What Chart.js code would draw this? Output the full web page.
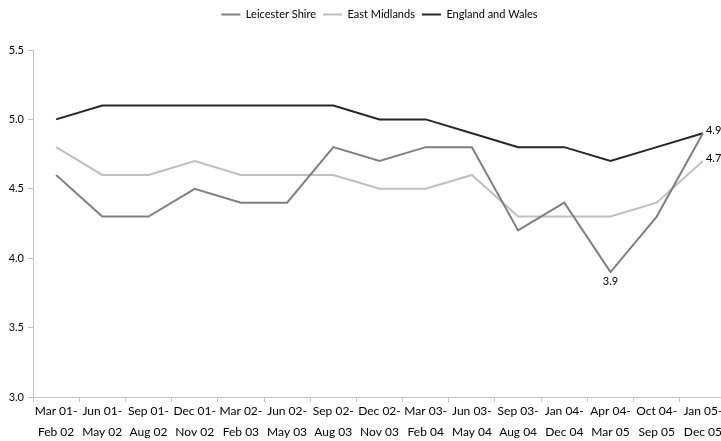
<!DOCTYPE html>
<html>
<head>
<meta charset="utf-8">
<script src="https://cdn.jsdelivr.net/npm/chart.js@4/dist/chart.umd.min.js"></script>
<style>
  html, body { margin: 0; padding: 0; background: #fff; overflow: hidden; }
  /* plot runs a few pixels past the right edge, as in the original */
  #wrap { width: 726px; height: 441px; }
</style>
</head>
<body>
<div id="wrap"><canvas id="rateChart"></canvas></div>
<script>
const periods = [
    ['Mar 01-', 'Feb 02'], ['Jun 01-', 'May 02'], ['Sep 01-', 'Aug 02'], ['Dec 01-', 'Nov 02'],
    ['Mar 02-', 'Feb 03'], ['Jun 02-', 'May 03'], ['Sep 02-', 'Aug 03'], ['Dec 02-', 'Nov 03'],
    ['Mar 03-', 'Feb 04'], ['Jun 03-', 'May 04'], ['Sep 03-', 'Aug 04'], ['Jan 04-', 'Dec 04'],
    ['Apr 04-', 'Mar 05'], ['Oct 04-', 'Sep 05'], ['Jan 05-', 'Dec 05']
];

const leicesterShire = [4.6, 4.3, 4.3, 4.5, 4.4, 4.4, 4.8, 4.7, 4.8, 4.8, 4.2, 4.4, 3.9, 4.3, 4.9];
const eastMidlands   = [4.8, 4.6, 4.6, 4.7, 4.6, 4.6, 4.6, 4.5, 4.5, 4.6, 4.3, 4.3, 4.3, 4.4, 4.7];
const englandWales   = [5.0, 5.1, 5.1, 5.1, 5.1, 5.1, 5.1, 5.0, 5.0, 4.9, 4.8, 4.8, 4.7, 4.8, 4.9];

const yTicks = [3.0, 3.5, 4.0, 4.5, 5.0, 5.5];

// which points get a value written next to them: [dataset, index, position]
const pointLabels = [
    [0, 12, 'below'],
    [0, 14, 'right'],
    [1, 14, 'right']
];

const fontName = 'Lato, "DejaVu Sans", sans-serif';
const axisGrey = '#c4c4c4';

// small inline labeller, no datalabels plugin available offline
const valueLabels = {
    id: 'valueLabels',
    afterDatasetsDraw(chart) {
        const ctx = chart.ctx;
        ctx.save();
        ctx.font = '11px ' + fontName;
        ctx.fillStyle = '#000';
        pointLabels.forEach(([ds, i, pos]) => {
            const pt = chart.getDatasetMeta(ds).data[i];
            const txt = chart.data.datasets[ds].data[i].toFixed(1);
            if (pos === 'below') {
                ctx.textAlign = 'center';
                ctx.textBaseline = 'top';
                ctx.fillText(txt, pt.x, pt.y + 4);
            } else {
                ctx.textAlign = 'left';
                ctx.textBaseline = 'middle';
                ctx.fillText(txt, pt.x + 3, pt.y - 3);
            }
        });
        ctx.restore();
    }
};

// more room under the legend, and centre it over the plot area
const legendGap = {
    id: 'legendGap',
    beforeInit(chart) {
        const fit = chart.legend.fit;
        chart.legend.fit = function () {
            fit.bind(chart.legend)();
            this.height += 20;
        };
    },
    afterLayout(chart) {
        const lg = chart.legend;
        const area = chart.chartArea;
        const shift = (area.left + area.right) / 2 - (lg.left + lg.right) / 2;
        lg.left += shift;
        lg.right += shift;
    }
};

const data = {
    labels: periods,
    datasets: [{
        label: 'Leicester Shire',
        data: leicesterShire,
        borderColor: '#808080',
        backgroundColor: '#808080',
        borderWidth: 2
    }, {
        label: 'East Midlands',
        data: eastMidlands,
        borderColor: '#c0c0c0',
        backgroundColor: '#c0c0c0',
        borderWidth: 2
    }, {
        label: 'England and Wales',
        data: englandWales,
        borderColor: '#262626',
        backgroundColor: '#262626',
        borderWidth: 2
    }]
};

const config = {
    type: 'line',
    data: data,
    plugins: [valueLabels, legendGap],
    options: {
        responsive: true,
        maintainAspectRatio: false,
        animation: false,
        layout: { padding: { left: 0, right: 0, top: 2, bottom: 0 } },
        elements: {
            line: { tension: 0, fill: false },
            point: { radius: 0, hoverRadius: 0 }
        },
        plugins: {
            tooltip: { enabled: false },
            legend: {
                position: 'top',
                labels: {
                    font: { family: fontName, size: 11 },
                    color: '#000',
                    usePointStyle: true,
                    pointStyle: 'line',
                    pointStyleWidth: 19,
                    boxHeight: 10,
                    padding: 7
                }
            }
        },
        scales: {
            x: {
                offset: true,
                afterFit(scale) { scale.height = 44; },
                grid: {
                    offset: true,
                    drawOnChartArea: false,
                    color: axisGrey,
                    tickLength: 5
                },
                border: { color: axisGrey },
                ticks: {
                    autoSkip: false,
                    maxRotation: 0,
                    color: '#000',
                    padding: -2,
                    font: { family: fontName, size: 12, lineHeight: 1.8 }
                }
            },
            y: {
                min: 3,
                max: 5.5,
                afterFit(scale) { scale.width = 33; },
                afterBuildTicks(axis) {
                    axis.ticks = yTicks.map(v => ({ value: v }));
                },
                grid: {
                    drawOnChartArea: false,
                    color: axisGrey,
                    tickLength: 5
                },
                border: { color: axisGrey },
                ticks: {
                    color: '#000',
                    padding: 4,
                    font: { family: fontName, size: 11 },
                    callback: v => Number(v).toFixed(1)
                }
            }
        }
    }
};

new Chart(document.getElementById('rateChart').getContext('2d'), config);
</script>
</body>
</html>
